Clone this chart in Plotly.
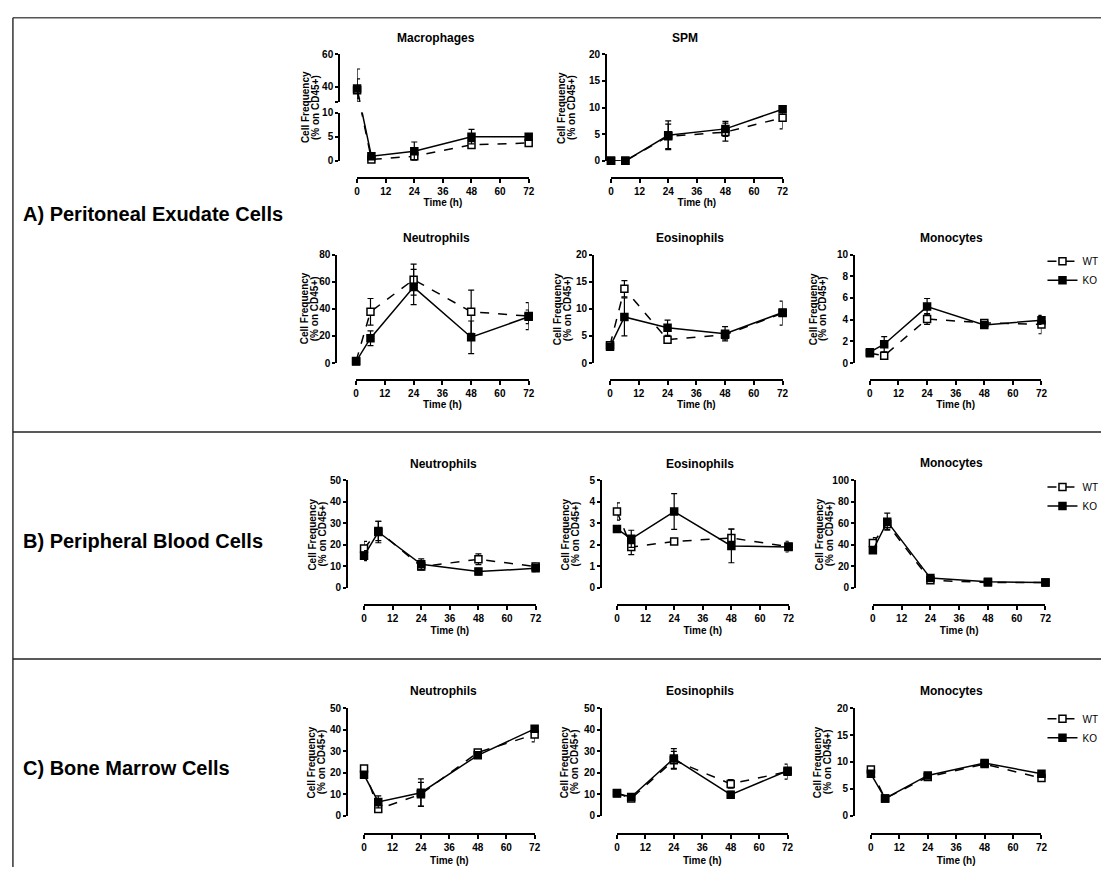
import plotly.graph_objects as go

W, H = 1107, 873
FONT = "Liberation Sans, Arial, sans-serif"

# ---------------- data ----------------
time_h = [0, 6, 24, 48, 72]
time_ticks = [0, 12, 24, 36, 48, 60, 72]
series_names = ["WT", "KO"]

# A) Peritoneal exudate cells
pec_mac_wt = [38.0, 0.3, 0.95, 3.3, 3.7]
pec_mac_wt_err = [13.0, 0.3, 0.6, 0.4, 0.6]
pec_mac_ko = [39.0, 0.95, 2.0, 5.0, 5.0]
pec_mac_ko_err = [6.0, 0.5, 1.9, 1.5, 0.6]

pec_spm_wt = [0.0, 0.0, 4.6, 5.4, 8.1]
pec_spm_wt_err = [0.0, 0.0, 2.3, 1.7, 2.1]
pec_spm_ko = [0.0, 0.0, 4.8, 6.0, 9.7]
pec_spm_ko_err = [0.0, 0.0, 2.7, 1.4, 0.6]

pec_neu_wt = [1.5, 37.8, 61.5, 37.8, 34.6]
pec_neu_wt_err = [0.5, 9.8, 11.5, 16.0, 10.0]
pec_neu_ko = [1.2, 18.3, 56.0, 19.0, 34.1]
pec_neu_ko_err = [0.5, 5.4, 13.0, 12.0, 5.0]

pec_eos_wt = [3.3, 13.7, 4.3, 5.2, 9.2]
pec_eos_wt_err = [0.5, 1.5, 0.3, 0.8, 2.2]
pec_eos_ko = [3.0, 8.5, 6.5, 5.4, 9.3]
pec_eos_ko_err = [0.4, 3.5, 1.4, 1.3, 0.5]

pec_mon_wt = [0.9, 0.67, 4.06, 3.7, 3.55]
pec_mon_wt_err = [0.15, 0.3, 0.5, 0.3, 0.85]
pec_mon_ko = [1.0, 1.73, 5.2, 3.5, 3.95]
pec_mon_ko_err = [0.15, 0.7, 0.75, 0.3, 0.4]

# B) Peripheral blood cells
pb_neu_wt = [18.3, 26.5, 9.9, 13.3, 9.9]
pb_neu_wt_err = [3.3, 4.5, 1.5, 2.5, 1.5]
pb_neu_ko = [15.0, 26.0, 11.0, 7.6, 9.1]
pb_neu_ko_err = [2.3, 5.0, 2.5, 1.5, 1.5]

pb_eos_wt = [3.55, 1.9, 2.16, 2.32, 1.92]
pb_eos_wt_err = [0.4, 0.35, 0.1, 0.42, 0.25]
pb_eos_ko = [2.74, 2.28, 3.55, 1.95, 1.9]
pb_eos_ko_err = [0.1, 0.4, 0.83, 0.78, 0.15]

pb_mon_wt = [41.8, 59.5, 7.0, 5.0, 4.9]
pb_mon_wt_err = [5.0, 5.0, 1.0, 1.0, 0.8]
pb_mon_ko = [35.0, 61.6, 9.1, 5.8, 4.9]
pb_mon_ko_err = [3.0, 8.0, 1.0, 1.0, 0.8]

# C) Bone marrow cells
bm_neu_wt = [22.0, 3.1, 10.0, 29.4, 37.8]
bm_neu_wt_err = [1.0, 0.8, 5.5, 0.8, 3.5]
bm_neu_ko = [19.0, 6.4, 10.7, 28.1, 40.4]
bm_neu_ko_err = [1.0, 2.8, 6.4, 0.8, 1.0]

bm_eos_wt = [10.6, 8.0, 25.8, 14.8, 20.5]
bm_eos_wt_err = [0.8, 0.8, 4.1, 2.0, 3.5]
bm_eos_ko = [10.3, 8.7, 26.6, 9.8, 20.9]
bm_eos_ko_err = [0.8, 0.8, 4.6, 1.5, 1.0]

bm_mon_wt = [8.6, 3.2, 7.2, 9.6, 7.0]
bm_mon_wt_err = [0.4, 0.3, 0.5, 0.3, 0.3]
bm_mon_ko = [7.8, 3.2, 7.5, 9.8, 7.8]
bm_mon_ko_err = [0.4, 0.3, 0.5, 0.3, 0.3]

panel_titles = ["Macrophages", "SPM", "Neutrophils", "Eosinophils", "Monocytes",
                "Neutrophils", "Eosinophils", "Monocytes",
                "Neutrophils", "Eosinophils", "Monocytes"]
section_labels = ["A) Peritoneal Exudate Cells", "B) Peripheral Blood Cells", "C) Bone Marrow Cells"]
y_title_lines = ["Cell Frequency", "(% on CD45+)"]
x_title = "Time (h)"

# ---------------- helpers ----------------
def fx(p):
    return p / W

def fy(p):
    return 1 - p / H

axis_common = dict(
    showline=True, linecolor="black", linewidth=2,
    ticks="outside", ticklen=4, tickwidth=2, tickcolor="black",
    showgrid=False, zeroline=False, fixedrange=True,
    tickfont=dict(family=FONT, size=10, color="black", weight="bold"),
)
title_font = dict(family=FONT, size=10, color="black", weight="bold")

fig = go.Figure()
layout = {}
annotations = []
xi = [0]
yi = [0]


def new_x(x0, x1, xly, standoff=2):
    xi[0] += 1
    n = xi[0]
    name = "xaxis" if n == 1 else f"xaxis{n}"
    layout[name] = dict(axis_common, domain=[fx(x0), fx(x1)], range=[0, 72],
                        tickvals=time_ticks, anchor="free", position=fy(xly),
                        title=dict(text=x_title, font=title_font, standoff=standoff))
    return "x" if n == 1 else f"x{n}"


def new_y(y0, ytop, ylx, yrange, tickvals):
    yi[0] += 1
    n = yi[0]
    name = "yaxis" if n == 1 else f"yaxis{n}"
    layout[name] = dict(axis_common, domain=[fy(y0), fy(ytop)], range=yrange,
                        tickvals=tickvals, anchor="free", position=fx(ylx), ticklen=3)
    return "y" if n == 1 else f"y{n}"


def style(is_wt):
    return dict(
        line=dict(color="black", width=1.5, dash="dash" if is_wt else "solid"),
        marker=dict(symbol="square", size=7, color="white" if is_wt else "black",
                    line=dict(color="black", width=1.5)),
    )


def add_series(xr, yr, y, err, is_wt, legend=None):
    st = style(is_wt)
    fig.add_trace(go.Scatter(
        x=time_h, y=y, mode="lines+markers", xaxis=xr, yaxis=yr,
        line=st["line"], marker=st["marker"],
        error_y=dict(type="data", array=err, color="black", thickness=1.2, width=3),
        cliponaxis=False, name="WT" if is_wt else "KO",
        showlegend=legend is not None, legend=legend if legend else "legend",
    ))


def titles(cx, cy, ytx, yc, text):
    annotations.append(dict(text=f"<b>{text}</b>", x=fx(cx), y=fy(cy), xref="paper", yref="paper",
                            showarrow=False, xanchor="center", yanchor="middle",
                            font=dict(family=FONT, size=12, color="black")))
    for off, line in zip([-5, 5], y_title_lines):
        annotations.append(dict(text=line, x=fx(ytx + off), y=fy(yc), xref="paper", yref="paper",
                                showarrow=False, xanchor="center", yanchor="middle", textangle=-90,
                                font=title_font))


# ---------------- A: Macrophages (broken y axis) ----------------
mac_lo = dict(y0=157, ytop=108, rng=[0, 10])
mac_hi = dict(y0=97, ytop=49, rng=[31, 60])
xm = new_x(357, 530, 174)
ylo = new_y(mac_lo["y0"], mac_lo["ytop"], 339, mac_lo["rng"], [0, 5, 10])
yhi = new_y(mac_hi["y0"], mac_hi["ytop"], 339, mac_hi["rng"], [31, 40, 60])
layout["yaxis2"]["ticktext"] = ["", "40", "60"]


def hi_to_px(v):
    return mac_hi["y0"] - (v - mac_hi["rng"][0]) * (mac_hi["y0"] - mac_hi["ytop"]) / (mac_hi["rng"][1] - mac_hi["rng"][0])


def lo_to_px(v):
    return mac_lo["y0"] - (v - mac_lo["rng"][0]) * (mac_lo["y0"] - mac_lo["ytop"]) / (mac_lo["rng"][1] - mac_lo["rng"][0])


def px_to_lo(p):
    return mac_lo["rng"][0] + (mac_lo["y0"] - p) * (mac_lo["rng"][1] - mac_lo["rng"][0]) / (mac_lo["y0"] - mac_lo["ytop"])


def px_to_hi(p):
    return mac_hi["rng"][0] + (mac_hi["y0"] - p) * (mac_hi["rng"][1] - mac_hi["rng"][0]) / (mac_hi["y0"] - mac_hi["ytop"])


for vals, errs, is_wt in [(pec_mac_wt, pec_mac_wt_err, True), (pec_mac_ko, pec_mac_ko_err, False)]:
    st = style(is_wt)
    # value in broken space: points above the lower range live on the upper segment
    lo_line = [px_to_lo(hi_to_px(v)) if v > mac_lo["rng"][1] else v for v in vals]
    hi_line = [v if v > mac_lo["rng"][1] else px_to_hi(lo_to_px(v)) for v in vals]
    fig.add_trace(go.Scatter(x=time_h, y=lo_line, mode="lines", xaxis=xm, yaxis=ylo,
                             line=st["line"], showlegend=False, hoverinfo="skip"))
    fig.add_trace(go.Scatter(x=time_h[:2], y=hi_line[:2], mode="lines", xaxis=xm, yaxis=yhi,
                             line=st["line"], showlegend=False, hoverinfo="skip"))
    fig.add_trace(go.Scatter(x=time_h[1:], y=vals[1:], mode="markers", xaxis=xm, yaxis=ylo,
                             marker=st["marker"], cliponaxis=False, showlegend=False,
                             error_y=dict(type="data", array=errs[1:], color="black", thickness=1.2, width=3)))
    fig.add_trace(go.Scatter(x=time_h[:1], y=vals[:1], mode="markers", xaxis=xm, yaxis=yhi,
                             marker=st["marker"], cliponaxis=False, showlegend=False,
                             error_y=dict(type="data", array=errs[:1],
                                          arrayminus=[min(errs[0], vals[0] - mac_hi["rng"][0])],
                                          color="black", thickness=1.2, width=3)))
titles(437, 32, 310, 103, panel_titles[0])

# ---------------- remaining panels ----------------
# (x0, x1, ylx, y0, ytop, xly, ymax, ydtick, title_x, title_y, ytitle_x, legend, xtitle_standoff)
panel_geom = [
    (613, 786, 608, 157, 49, 174, 20, 5, 688, 32, 568, None, 2),
    (356, 530, 336, 362, 252, 379, 80, 20, 437, 235, 309, None, 2),
    (612, 786, 595, 362, 252, 379, 20, 5, 693, 235, 564, None, 2),
    (874, 1047, 858, 362, 252, 379, 10, 2, 956, 235, 822, "legend", 2),
    (364, 537, 347, 590, 481, 607, 50, 10, 444, 464, 317, None, 3),
    (619, 792, 603, 590, 481, 607, 5, 1, 703, 464, 572, None, 3),
    (877, 1051, 859, 590, 481, 607, 100, 20, 956, 463, 828, "legend2", 3),
    (364, 536, 347, 821, 712, 840, 50, 10, 444, 695, 317, None, 4),
    (619, 791, 603, 821, 712, 840, 50, 10, 703, 695, 572, None, 4),
    (875, 1047, 858, 821, 712, 840, 20, 5, 956, 695, 827, "legend3", 4),
]
panel_data = [
    (pec_spm_wt, pec_spm_wt_err, pec_spm_ko, pec_spm_ko_err),
    (pec_neu_wt, pec_neu_wt_err, pec_neu_ko, pec_neu_ko_err),
    (pec_eos_wt, pec_eos_wt_err, pec_eos_ko, pec_eos_ko_err),
    (pec_mon_wt, pec_mon_wt_err, pec_mon_ko, pec_mon_ko_err),
    (pb_neu_wt, pb_neu_wt_err, pb_neu_ko, pb_neu_ko_err),
    (pb_eos_wt, pb_eos_wt_err, pb_eos_ko, pb_eos_ko_err),
    (pb_mon_wt, pb_mon_wt_err, pb_mon_ko, pb_mon_ko_err),
    (bm_neu_wt, bm_neu_wt_err, bm_neu_ko, bm_neu_ko_err),
    (bm_eos_wt, bm_eos_wt_err, bm_eos_ko, bm_eos_ko_err),
    (bm_mon_wt, bm_mon_wt_err, bm_mon_ko, bm_mon_ko_err),
]

for k, (g, d) in enumerate(zip(panel_geom, panel_data)):
    x0, x1, ylx, y0, ytop, xly, ymax, dt, tx, ty, ytx, leg, so = g
    xr = new_x(x0, x1, xly, so)
    ticks = [i * dt for i in range(int(round(ymax / dt)) + 1)]
    yr = new_y(y0, ytop, ylx, [0, ymax], ticks)
    add_series(xr, yr, d[0], d[1], True, leg)
    add_series(xr, yr, d[2], d[3], False, leg)
    titles(tx, ty, ytx, (y0 + ytop) / 2, panel_titles[k + 1])

# legends
leg_common = dict(xanchor="left", yanchor="top", bgcolor="rgba(0,0,0,0)",
                  font=dict(family=FONT, size=10, color="black"), itemwidth=30,
                  tracegroupgap=0)
layout["legend"] = dict(leg_common, x=fx(1048), y=fy(244))
layout["legend2"] = dict(leg_common, x=fx(1048), y=fy(473))
layout["legend3"] = dict(leg_common, x=fx(1048), y=fy(708))

# section labels
for text, yc in zip(section_labels, [211, 542, 773]):
    annotations.append(dict(text=f"<b>{text}</b>", x=fx(18), y=fy(yc), xref="paper", yref="paper",
                            showarrow=False, xanchor="left", yanchor="middle",
                            font=dict(family=FONT, size=20, color="black")))

shapes = [
    dict(type="line", xref="paper", yref="paper", x0=fx(10), x1=1, y0=fy(12), y1=fy(12),
         line=dict(color="#555555", width=1.5)),
    dict(type="line", xref="paper", yref="paper", x0=fx(10), x1=fx(10), y0=fy(12), y1=0,
         line=dict(color="#333333", width=1.5)),
    dict(type="line", xref="paper", yref="paper", x0=fx(10), x1=1, y0=fy(432), y1=fy(432),
         line=dict(color="#222222", width=1.5)),
    dict(type="line", xref="paper", yref="paper", x0=fx(10), x1=1, y0=fy(662), y1=fy(662),
         line=dict(color="#222222", width=1.5)),
]

fig.update_layout(
    width=W, height=H, margin=dict(l=0, r=0, t=0, b=0),
    paper_bgcolor="white", plot_bgcolor="white",
    annotations=annotations, shapes=shapes, hovermode=False,
    **layout,
)
fig.write_html("out.html")
